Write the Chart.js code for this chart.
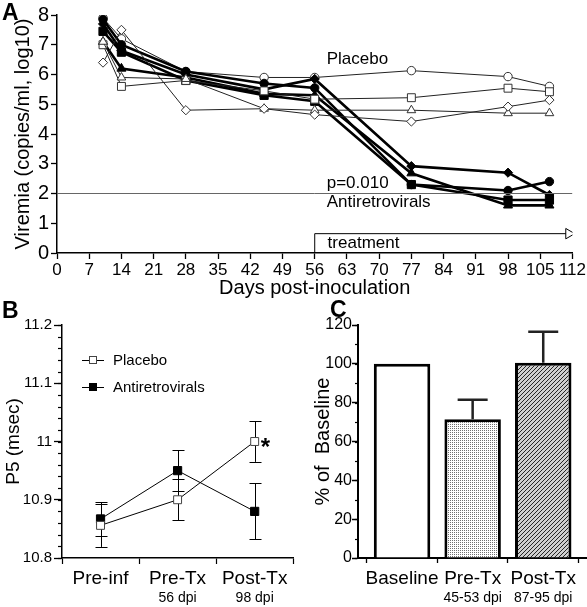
<!DOCTYPE html>
<html>
<head>
<meta charset="utf-8">
<script src="https://cdn.jsdelivr.net/npm/chart.js@4/dist/chart.umd.min.js"></script>
<style>
  body { margin: 0; background: #fff; width: 587px; height: 607px; position: relative; overflow: hidden; }
  canvas { position: absolute; }
  #chartA { left: 0; top: 0; }
  #chartB { left: 0; top: 300px; }
  #chartC { left: 300px; top: 300px; }
</style>
</head>
<body>
<canvas id="chartA" width="587" height="300"></canvas>
<canvas id="chartB" width="300" height="307"></canvas>
<canvas id="chartC" width="287" height="307"></canvas>
<script>
// ---- panel A : viremia per animal (log10 copies/ml)
var days = [10, 14, 28, 45, 56, 77, 98, 107]
var placeboCircle   = [7.9, 7.2, 6.1, 5.9, 5.9, 6.13, 5.93, 5.6]
var placeboSquare   = [7.0, 5.6, 5.8, 5.45, 5.17, 5.22, 5.54, 5.42]
var placeboTriangle = [7.1, 5.9, 5.85, 4.85, 4.8, 4.8, 4.7, 4.7]
var placeboDiamond  = [6.4, 7.5, 4.8, 4.85, 4.65, 4.42, 4.92, 5.14]
var artCircle   = [7.85, 7.0, 6.1, 5.7, 5.55, 2.3, 2.1, 2.4]
var artSquare   = [7.45, 6.75, 5.8, 5.3, 5.1, 2.3, 1.78, 1.78]
var artTriangle = [7.1, 6.2, 5.9, 5.35, 5.3, 2.68, 1.6, 1.6]
var artDiamond  = [7.7, 6.8, 6.0, 5.5, 5.85, 2.92, 2.7, 1.95]
var limitDays = [0, 112]
var limitLevel = [2, 2]
var treatDays = [56, 56, 111.2]
var treatLevel = [0, 0.65, 0.65]

// ---- panel B : P5 latency
var stages = ['Pre-inf', 'Pre-Tx', 'Post-Tx']
var stageDpi = ['', '56 dpi', '98 dpi']
var placeboP5 = [10.856, 10.9, 11.0]
var placeboP5Err = [0.037, 0.035, 0.035]
var artP5 = [10.867, 10.95, 10.88]
var artP5Err = [0.029, 0.035, 0.048]

// ---- panel C : % of baseline
var periods = ['Baseline', 'Pre-Tx', 'Post-Tx']
var periodDpi = ['', '45-53 dpi', '87-95 dpi']
var pctBaseline = [100, 71.5, 100.5]
var pctErr = [0, 10, 16]

var FONT = "'Liberation Sans', Arial, sans-serif"
Chart.defaults.font.family = FONT
Chart.defaults.color = '#000'

function pts(xs, ys) {
    return xs.map(function (x, i) { return { x: x, y: ys[i] } })
}

function placeboSet(ys, style, r) {
    return {
        data: pts(days, ys), borderColor: '#222', borderWidth: 1,
        pointStyle: style, pointRadius: r, pointBackgroundColor: '#fff',
        pointBorderColor: '#333', pointBorderWidth: 1
    }
}
function artSet(ys, style, r) {
    return {
        data: pts(days, ys), borderColor: '#000', borderWidth: 2.6,
        pointStyle: style, pointRadius: r, pointBackgroundColor: '#000',
        pointBorderColor: '#000', pointBorderWidth: 1
    }
}

function axisGrid(len) {
    return { drawOnChartArea: false, tickLength: len, color: '#000', tickWidth: 1.3 }
}

// minor tick marks on the y axis
var minorTicks = {
    id: 'minorTicks',
    afterDraw: function (chart, args, opts) {
        if (!opts.step) return
        var s = chart.scales.y, c = chart.ctx
        c.save()
        c.strokeStyle = '#000'
        c.lineWidth = 1.2
        for (var v = s.min; v <= s.max + 1e-9; v += opts.step) {
            var py = Math.round(s.getPixelForValue(v)) + 0.5
            c.beginPath()
            c.moveTo(s.right, py)
            c.lineTo(s.right - opts.len, py)
            c.stroke()
        }
        c.restore()
    }
}

function panelLetter(chart, letter, x, y) {
    var c = chart.ctx
    c.save()
    c.font = 'bold 23px ' + FONT
    c.fillStyle = '#000'
    c.textBaseline = 'alphabetic'
    c.fillText(letter, x, y)
    c.restore()
}

function subLabels(chart, list) {
    var c = chart.ctx, s = chart.scales.x
    c.save()
    c.font = '14px ' + FONT
    c.fillStyle = '#000'
    c.textAlign = 'center'
    c.textBaseline = 'middle'
    list.forEach(function (t, i) {
        if (t) c.fillText(t, s.getPixelForValue(i), chart.chartArea.bottom + 40)
    })
    c.restore()
}

// ================= A
var notesA = [
    { text: 'Placebo', x: 58.6, y: 6.5 },
    { text: 'p=0.010', x: 58.6, y: 2.35 },
    { text: 'Antiretrovirals', x: 58.6, y: 1.72 },
    { text: 'treatment', x: 58.8, y: 0.34 }
]

new Chart(document.getElementById('chartA'), {
    type: 'line',
    data: {
        datasets: [
            { data: pts(limitDays, limitLevel), borderColor: '#666', borderWidth: 1, pointRadius: 0 },
            {
                data: pts(treatDays, treatLevel), borderColor: '#000', borderWidth: 1,
                pointStyle: 'triangle', pointRotation: 90, pointBackgroundColor: '#fff',
                pointBorderColor: '#000', pointBorderWidth: 1,
                pointRadius: function (ctx) { return ctx.dataIndex === 2 ? 6 : 0 }
            },
            placeboSet(placeboDiamond, 'rectRot', 4.6),
            placeboSet(placeboTriangle, 'triangle', 5),
            placeboSet(placeboSquare, 'rect', 5.6),
            artSet(artTriangle, 'triangle', 5.2),
            artSet(artSquare, 'rect', 5.8),
            artSet(artDiamond, 'rectRot', 4.6),
            artSet(artCircle, 'circle', 4.2),
            placeboSet(placeboCircle, 'circle', 4.2)
        ]
    },
    options: {
        responsive: false, animation: false, devicePixelRatio: 1,
        layout: { padding: { left: 7, top: 15, right: 14, bottom: 0 } },
        plugins: { legend: { display: false }, tooltip: { enabled: false } },
        scales: {
            x: {
                type: 'linear', min: 0, max: 112,
                afterFit: function (s) { s.height = 47 },
                ticks: { stepSize: 7, font: { size: 17 }, padding: 1, autoSkip: false, maxRotation: 0 },
                grid: axisGrid(6),
                border: { color: '#000', width: 1.5 },
                title: { display: true, text: 'Days post-inoculation', font: { size: 20 }, padding: 0 }
            },
            y: {
                min: 0, max: 8,
                afterFit: function (s) { s.width = 50 },
                ticks: { stepSize: 1, font: { size: 20 }, padding: 2 },
                grid: axisGrid(6),
                border: { color: '#000', width: 1.5 },
                title: { display: true, text: 'Viremia (copies/ml, log10)', font: { size: 20 }, padding: { top: 4, bottom: 0 } }
            }
        }
    },
    plugins: [{
        id: 'notesA',
        afterDraw: function (chart) {
            var c = chart.ctx, sx = chart.scales.x, sy = chart.scales.y
            c.save()
            c.font = '17px ' + FONT
            c.fillStyle = '#000'
            c.textBaseline = 'middle'
            notesA.forEach(function (n) {
                c.fillText(n.text, sx.getPixelForValue(n.x), sy.getPixelForValue(n.y))
            })
            c.restore()
            panelLetter(chart, 'A', 2, 20)
        }
    }]
})

// ================= B
new Chart(document.getElementById('chartB'), {
    type: 'line',
    data: {
        labels: stages,
        datasets: [
            {
                label: 'Placebo', data: placeboP5, err: placeboP5Err,
                borderColor: '#000', borderWidth: 1, pointStyle: 'rect', pointRadius: 5.6,
                pointBackgroundColor: '#fff', pointBorderColor: '#444', pointBorderWidth: 1
            },
            {
                label: 'Antiretrovirals', data: artP5, err: artP5Err,
                borderColor: '#000', borderWidth: 1, pointStyle: 'rect', pointRadius: 5.8,
                pointBackgroundColor: '#000', pointBorderColor: '#000', pointBorderWidth: 1
            }
        ]
    },
    options: {
        responsive: false, animation: false, devicePixelRatio: 1,
        layout: { padding: { left: 0, top: 25, right: 4, bottom: 0 } },
        plugins: { legend: { display: false }, tooltip: { enabled: false }, minorTicks: { step: 0.02, len: 4 } },
        scales: {
            x: {
                offset: true,
                afterFit: function (s) { s.height = 49 },
                ticks: { font: { size: 19 }, padding: 3, maxRotation: 0 },
                grid: { drawOnChartArea: false, offset: true, tickLength: 6, color: '#000', tickWidth: 1.2 },
                border: { color: '#000', width: 1.5 }
            },
            y: {
                min: 10.8, max: 11.2,
                afterFit: function (s) { s.width = 62 },
                ticks: {
                    stepSize: 0.1, font: { size: 15 }, padding: 2,
                    callback: function (v) { return String(Math.round(v * 10) / 10) }
                },
                grid: axisGrid(8),
                border: { color: '#000', width: 1.5 },
                title: { display: true, text: 'P5 (msec)', font: { size: 19 }, padding: { top: 2, bottom: 0 } }
            }
        }
    },
    plugins: [minorTicks, {
        id: 'errB',
        beforeDatasetsDraw: function (chart) {
            var c = chart.ctx, sy = chart.scales.y
            c.save()
            c.strokeStyle = '#000'
            c.lineWidth = 1
            chart.data.datasets.forEach(function (ds, di) {
                chart.getDatasetMeta(di).data.forEach(function (p, i) {
                    var top = sy.getPixelForValue(ds.data[i] + ds.err[i])
                    var bot = sy.getPixelForValue(ds.data[i] - ds.err[i])
                    var x = Math.round(p.x) + 0.5
                    c.beginPath()
                    c.moveTo(x, top); c.lineTo(x, bot)
                    c.moveTo(x - 6, Math.round(top) + 0.5); c.lineTo(x + 6, Math.round(top) + 0.5)
                    c.moveTo(x - 6, Math.round(bot) + 0.5); c.lineTo(x + 6, Math.round(bot) + 0.5)
                    c.stroke()
                })
            })
            c.restore()
        },
        afterDraw: function (chart) {
            var c = chart.ctx
            // legend
            c.save()
            chart.data.datasets.forEach(function (ds, di) {
                var y = 60 + di * 27
                c.strokeStyle = '#000'
                c.lineWidth = 1
                c.beginPath(); c.moveTo(82, y + 0.5); c.lineTo(104, y + 0.5); c.stroke()
                c.fillStyle = ds.pointBackgroundColor
                c.strokeStyle = ds.pointBorderColor
                c.fillRect(89, y - 4, 8, 8)
                c.strokeRect(89.5, y - 3.5, 7, 7)
                c.fillStyle = '#000'
                c.font = '15px ' + FONT
                c.textBaseline = 'middle'
                c.fillText(ds.label, 113, y + 1)
            })
            // significance mark
            var p = chart.getDatasetMeta(0).data[2]
            c.font = 'bold 24px ' + FONT
            c.fillText('*', p.x + 6, p.y + 7)
            c.restore()
            subLabels(chart, stageDpi)
            panelLetter(chart, 'B', 2, 18)
        }
    }]
})

// ================= C
function pattern(kind) {
    var t = document.createElement('canvas')
    var g = t.getContext('2d')
    if (kind === 'dots') {
        t.width = 2; t.height = 2
        g.fillStyle = '#fff'; g.fillRect(0, 0, 2, 2)
        g.fillStyle = '#707070'; g.fillRect(0, 0, 1, 1)
    } else {
        t.width = 4; t.height = 4
        g.fillStyle = '#cfcfcf'; g.fillRect(0, 0, 4, 4)
        g.fillStyle = '#262626'
        for (var i = 0; i < 4; i++) g.fillRect(i, 3 - i, 1, 1)
    }
    return document.getElementById('chartC').getContext('2d').createPattern(t, 'repeat')
}

new Chart(document.getElementById('chartC'), {
    type: 'bar',
    data: {
        datasets: [{
            data: pts([0, 1, 2], pctBaseline), err: pctErr,
            backgroundColor: ['#fff', pattern('dots'), pattern('hatch')],
            borderColor: '#000', borderWidth: 3, borderSkipped: 'bottom',
            barPercentage: 0.8, categoryPercentage: 1
        }]
    },
    options: {
        responsive: false, animation: false, devicePixelRatio: 1,
        layout: { padding: { left: 7, top: 25, right: 0, bottom: 0 } },
        plugins: { legend: { display: false }, tooltip: { enabled: false }, minorTicks: { step: 10, len: 3 } },
        scales: {
            x: {
                type: 'linear', min: -0.624, max: 2.62, offset: false,
                afterFit: function (s) { s.height = 49 },
                afterBuildTicks: function (s) { s.ticks = [0, 1, 2].map(function (v) { return { value: v } }) },
                ticks: {
                    font: { size: 19 }, padding: 4, maxRotation: 0, autoSkip: false,
                    callback: function (v) { return periods[v] }
                },
                grid: { drawOnChartArea: false, tickLength: 5, color: '#000', tickWidth: 1.3 },
                border: { color: '#000', width: 2 }
            },
            y: {
                min: 0, max: 120,
                afterFit: function (s) { s.width = 51 },
                ticks: { stepSize: 20, font: { size: 16 }, padding: 0 },
                grid: { drawOnChartArea: false, tickLength: 6, color: '#000', tickWidth: 1.5 },
                border: { color: '#000', width: 2 },
                title: { display: true, text: '% of  Baseline', font: { size: 20 }, padding: { top: 4, bottom: 0 } }
            }
        }
    },
    plugins: [minorTicks, {
        id: 'errC',
        afterDatasetsDraw: function (chart) {
            var c = chart.ctx, sy = chart.scales.y
            var ds = chart.data.datasets[0]
            c.save()
            c.strokeStyle = '#222'
            c.lineWidth = 2.5
            chart.getDatasetMeta(0).data.forEach(function (b, i) {
                if (!ds.err[i]) return
                var top = sy.getPixelForValue(pctBaseline[i] + ds.err[i])
                c.beginPath()
                c.moveTo(b.x, b.y); c.lineTo(b.x, top)
                c.moveTo(b.x - 15, top); c.lineTo(b.x + 15, top)
                c.stroke()
            })
            c.restore()
        },
        afterDraw: function (chart) {
            subLabels(chart, periodDpi)
            panelLetter(chart, 'C', 30, 17)
        }
    }]
})
</script>
</body>
</html>
